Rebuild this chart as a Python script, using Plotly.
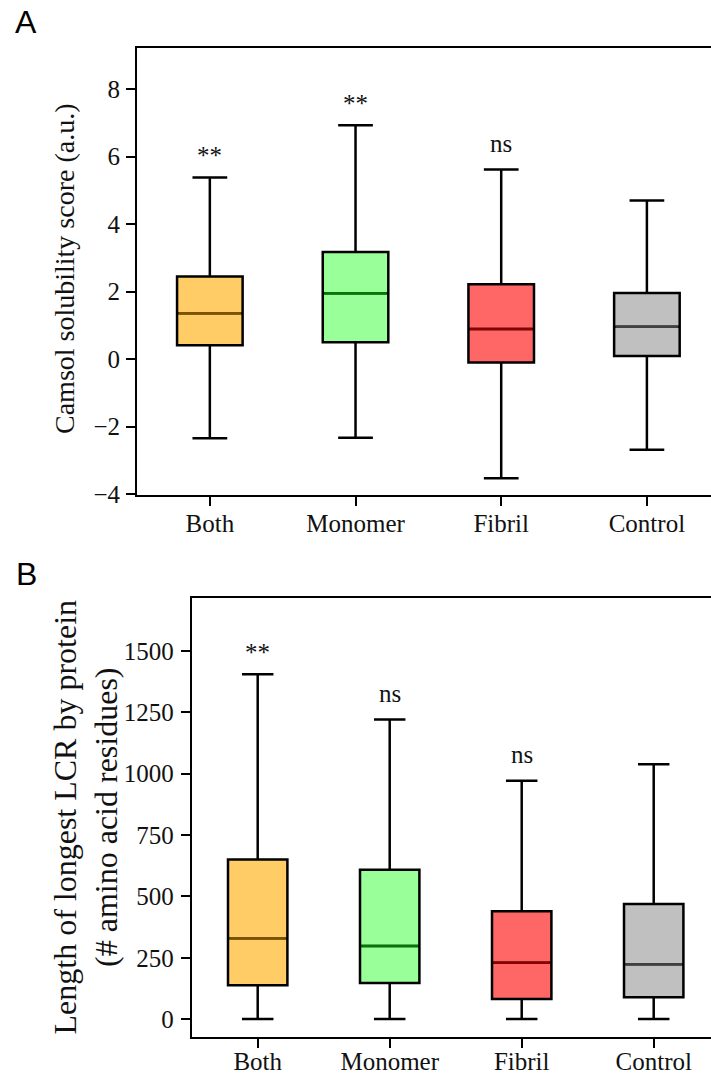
import plotly.graph_objects as go

# Group names and box colours
categories = ["Both", "Monomer", "Fibril", "Control"]
fill_colors = ["#FFCC66", "#99FF99", "#FF6666", "#C0C0C0"]
median_colors = ["#7F5200", "#007A00", "#8B0000", "#404040"]

# Panel A: CamSol solubility score summary statistics
camsol_upper = [5.38, 6.93, 5.62, 4.70]
camsol_q3 = [2.45, 3.17, 2.22, 1.96]
camsol_median = [1.36, 1.95, 0.89, 0.96]
camsol_q1 = [0.41, 0.50, -0.10, 0.09]
camsol_lower = [-2.35, -2.33, -3.53, -2.69]
camsol_sig = ["**", "**", "ns", ""]

# Panel B: longest low-complexity region per protein
lcr_upper = [1405, 1220, 971, 1038]
lcr_q3 = [651, 609, 440, 469]
lcr_median = [330, 298, 230, 224]
lcr_q1 = [139, 148, 83, 90]
lcr_lower = [1, 1, 1, 1]
lcr_sig = ["**", "ns", "ns", ""]

W, H = 711, 1075
BOX_W = 0.45
SERIF = "Liberation Serif"
TXT = "#111111"

fig = go.Figure()
positions = list(range(1, len(categories) + 1))


def add_panel(xa, ya, upper, q3, med, q1, lower, sig):
    for i, pos in enumerate(positions):
        fig.add_trace(go.Box(
            x=[pos], q1=[q1[i]], median=[med[i]], q3=[q3[i]],
            lowerfence=[lower[i]], upperfence=[upper[i]],
            width=BOX_W, whiskerwidth=0.53,
            fillcolor=fill_colors[i],
            line=dict(color="black", width=2.5),
            boxpoints=False, showlegend=False, hoverinfo="skip",
            xaxis=xa, yaxis=ya,
        ))
        # coloured median line over the box
        fig.add_trace(go.Scatter(
            x=[pos - BOX_W / 2 + 0.01, pos + BOX_W / 2 - 0.01],
            y=[med[i], med[i]], mode="lines",
            line=dict(color=median_colors[i], width=2.5),
            showlegend=False, hoverinfo="skip",
            xaxis=xa, yaxis=ya,
        ))
        if sig[i]:
            shift = 22 if sig[i] == "**" else 26
            fig.add_annotation(
                x=pos, y=upper[i], xref=xa, yref=ya,
                text=sig[i], showarrow=False,
                yanchor="middle", yshift=shift,
                font=dict(family=SERIF, size=25, color=TXT),
            )


add_panel("x", "y", camsol_upper, camsol_q3, camsol_median, camsol_q1, camsol_lower, camsol_sig)
add_panel("x2", "y2", lcr_upper, lcr_q3, lcr_median, lcr_q1, lcr_lower, lcr_sig)

axis_common = dict(
    showline=True, linecolor="black", linewidth=2,
    ticks="outside", ticklen=9, tickwidth=2, tickcolor="black",
    showgrid=False, zeroline=False, automargin=False,
    tickfont=dict(family=SERIF, size=25, color=TXT),
)

top_dom = [1 - 495 / H, 1 - 48 / H]
bot_dom = [1 - 1037 / H, 1 - 598 / H]

fig.update_layout(
    width=W, height=H,
    margin=dict(l=0, r=0, t=0, b=0),
    paper_bgcolor="white", plot_bgcolor="white",
    xaxis=dict(axis_common, domain=[137 / W, 1], range=[0.5, 4.44],
               tickvals=positions, ticktext=categories, mirror=True,
               anchor="y", ticklabelstandoff=-4),
    yaxis=dict(axis_common, domain=top_dom, range=[-4.03, 9.22],
               dtick=2, anchor="x", ticklabelstandoff=1),
    xaxis2=dict(axis_common, domain=[191.7 / W, 1], range=[0.5, 4.434],
                tickvals=positions, ticktext=categories, mirror=True,
                anchor="y2", ticklabelstandoff=-8),
    yaxis2=dict(axis_common, domain=bot_dom, range=[-72, 1715],
                dtick=250, tickformat="d", anchor="x2", ticklabelstandoff=2),
)

# axis titles
fig.add_annotation(
    x=65 / W, y=1 - 269 / H, xref="paper", yref="paper",
    text="Camsol solubility score (a.u.)", textangle=-90, showarrow=False,
    xanchor="center", yanchor="middle",
    font=dict(family=SERIF, size=28, color=TXT),
)
fig.add_annotation(
    x=85 / W, y=1 - 817.5 / H, xref="paper", yref="paper",
    text="Length of longest LCR by protein<br>(# amino acid residues)",
    textangle=-90, showarrow=False, xanchor="center", yanchor="middle",
    font=dict(family=SERIF, size=32, color=TXT),
)

# panel letters
for letter, ytop in [("A", 22), ("B", 574)]:
    fig.add_annotation(
        x=26 / W, y=1 - ytop / H, xref="paper", yref="paper",
        text=letter, showarrow=False, xanchor="center", yanchor="middle",
        font=dict(family="Liberation Sans", size=32, color="black"),
    )

fig.write_html("out.html")
